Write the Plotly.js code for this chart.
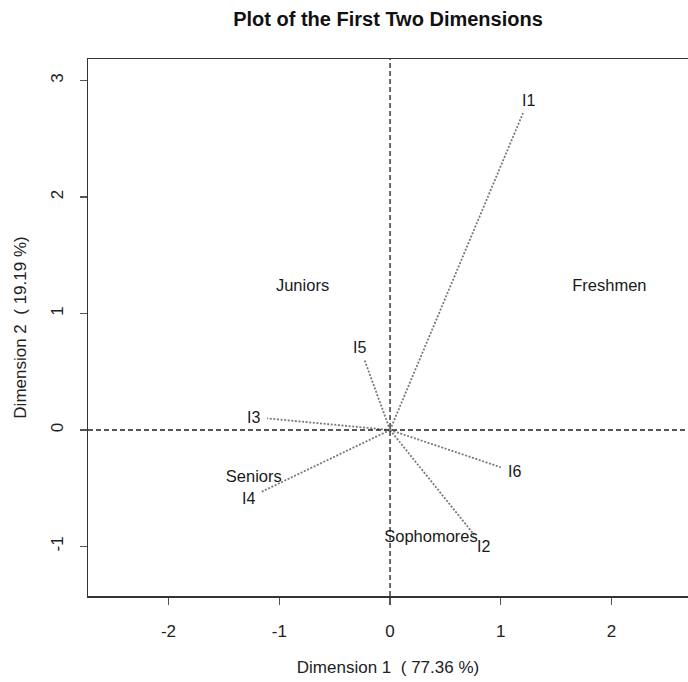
<!DOCTYPE html>
<html>
<head>
<meta charset="utf-8">
<script src="https://cdn.plot.ly/plotly-3.0.1.min.js"></script>
<style>
  html, body { margin: 0; padding: 0; background: #fff; }
  #chart { width: 688px; height: 682px; }
</style>
</head>
<body>
<div id="chart"></div>
<script>
// Column (item) coordinates: arrow tips on the first two dimensions
const itemLabels = ["I1", "I2", "I3", "I4", "I5", "I6"];
const itemDim1   = [1.20, 0.76, -1.11, -1.16, -0.23, 1.00];
const itemDim2   = [2.72, -0.90, 0.10, -0.53, 0.60, -0.32];

// Row (class year) coordinates
const groupLabels = ["Freshmen", "Sophomores", "Juniors", "Seniors"];
const groupDim1   = [1.98, 0.37, -0.79, -1.23];
const groupDim2   = [1.23, -0.93, 1.23, -0.41];

// Axis ticks
const xTicks = [-2, -1, 0, 1, 2];
const yTicks = [-1, 0, 1, 2, 3];

const W = 688, H = 682;
const margin = { l: 88, r: 0, t: 59, b: 86 };
const xRange = [-2.727, 2.69];
const yRange = [-1.425, 3.185];

const plotW = W - margin.l - margin.r;
const plotH = H - margin.t - margin.b;
const pxPerX = plotW / (xRange[1] - xRange[0]);
const pxPerY = plotH / (yRange[1] - yRange[0]);

const FONT = "Liberation Sans, Arial, Helvetica, sans-serif";

// Dotted rays from the origin to each item
const rayX = [], rayY = [];
itemDim1.forEach((v, i) => {
  rayX.push(0, v, null);
  rayY.push(0, itemDim2[i], null);
});

const traces = [
  {
    type: "scatter",
    mode: "lines",
    x: rayX,
    y: rayY,
    line: { color: "#7a7a7a", width: 1.8, dash: "2px,1.6px" },
    hoverinfo: "skip",
    showlegend: false
  },
  {
    type: "scatter",
    mode: "text",
    x: groupDim1,
    y: groupDim2,
    text: groupLabels,
    textposition: "middle center",
    textfont: { family: FONT, size: 16.5, color: "#1a1a1a" },
    cliponaxis: false,
    showlegend: false
  }
];

// Item labels sit just beyond each arrow tip, pushed out along the ray
const halfW = 8, halfH = 7, gap = 6;
const itemAnnotations = itemLabels.map((lab, i) => {
  const dx = itemDim1[i] * pxPerX;
  const dy = itemDim2[i] * pxPerY;
  const len = Math.hypot(dx, dy);
  const ux = dx / len, uy = dy / len;
  const d = Math.min(
    Math.abs(ux) > 1e-6 ? halfW / Math.abs(ux) : Infinity,
    Math.abs(uy) > 1e-6 ? halfH / Math.abs(uy) : Infinity
  ) + gap;
  return {
    x: itemDim1[i],
    y: itemDim2[i],
    xref: "x",
    yref: "y",
    text: lab,
    showarrow: false,
    xshift: ux * d,
    yshift: uy * d,
    xanchor: "center",
    yanchor: "middle",
    font: { family: FONT, size: 16, color: "#1a1a1a" }
  };
});

const layout = {
  width: W,
  height: H,
  margin: margin,
  paper_bgcolor: "#ffffff",
  plot_bgcolor: "#ffffff",
  showlegend: false,
  font: { family: FONT, size: 17, color: "#222" },
  title: {
    text: "<b>Plot of the First Two Dimensions</b>",
    font: { family: FONT, size: 20, color: "#111" },
    x: 0.5,
    xref: "paper",
    xanchor: "center",
    y: 1 - 19 / H,
    yref: "container",
    yanchor: "middle"
  },
  xaxis: {
    range: xRange,
    tickvals: xTicks,
    ticktext: xTicks.map(String),
    ticks: "outside",
    ticklen: 7,
    tickwidth: 1.2,
    tickcolor: "#555",
    ticklabelstandoff: 12,
    tickfont: { family: FONT, size: 17, color: "#222" },
    showgrid: false,
    zeroline: false,
    showline: true,
    mirror: true,
    linecolor: "#333",
    linewidth: 1.5,
    title: {
      text: "Dimension 1  ( 77.36 %)",
      font: { family: FONT, size: 17, color: "#222" },
      standoff: 21
    },
    fixedrange: true
  },
  yaxis: {
    range: yRange,
    tickvals: yTicks,
    ticktext: yTicks.map(String),
    tickangle: -90,
    ticks: "outside",
    ticklen: 7,
    tickwidth: 1.2,
    tickcolor: "#555",
    ticklabelstandoff: 10,
    tickfont: { family: FONT, size: 17, color: "#222" },
    showgrid: false,
    zeroline: false,
    showline: true,
    mirror: false,
    linecolor: "#333",
    linewidth: 1.5,
    title: {
      text: "Dimension 2  ( 19.19 %)",
      font: { family: FONT, size: 17, color: "#222" },
      standoff: 17
    },
    fixedrange: true
  },
  shapes: [
    {
      type: "line", xref: "paper", yref: "y",
      x0: 0, x1: 1, y0: 0, y1: 0,
      line: { color: "#222", width: 1.3, dash: "5px,3px" }
    },
    {
      type: "line", xref: "x", yref: "paper",
      x0: 0, x1: 0, y0: 0, y1: 1,
      line: { color: "#222", width: 1.3, dash: "5px,3px" }
    }
  ],
  annotations: itemAnnotations
};

Plotly.newPlot("chart", traces, layout, { staticPlot: true, displayModeBar: false });
</script>
</body>
</html>
